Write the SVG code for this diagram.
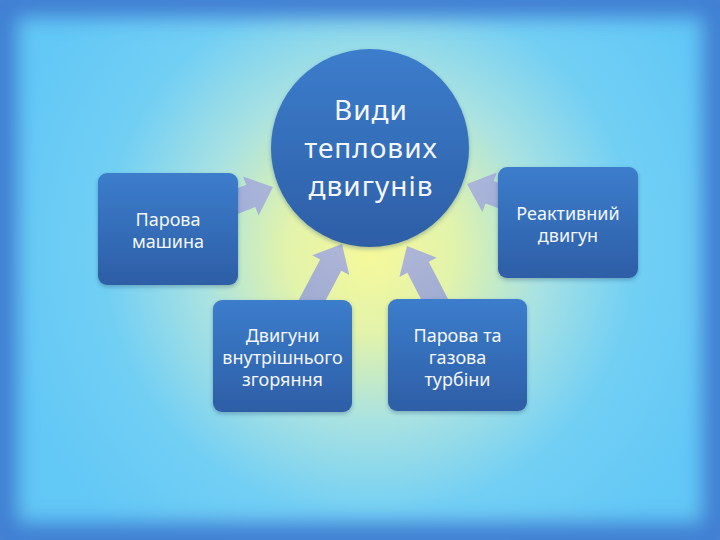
<svg xmlns="http://www.w3.org/2000/svg" width="720" height="540" viewBox="0 0 720 540">
  <defs>
    <radialGradient id="bg" cx="370" cy="250" r="380" gradientUnits="userSpaceOnUse">
      <stop offset="0" stop-color="#f6f99a"/>
      <stop offset="0.22" stop-color="#e2f3ab"/>
      <stop offset="0.45" stop-color="#a9e2e2"/>
      <stop offset="0.7" stop-color="#72cff4"/>
      <stop offset="1" stop-color="#62c8f6"/>
    </radialGradient>
    <linearGradient id="boxFill" x1="0" y1="0" x2="0" y2="1">
      <stop offset="0" stop-color="#3c7dcc"/>
      <stop offset="1" stop-color="#2d5ea6"/>
    </linearGradient>
    <linearGradient id="arrowFill" x1="0" y1="0" x2="1" y2="0">
      <stop offset="0" stop-color="#9aa5d5"/>
      <stop offset="1" stop-color="#a9b1dc"/>
    </linearGradient>
    <filter id="frameBlur" x="-10%" y="-10%" width="120%" height="120%">
      <feGaussianBlur stdDeviation="10"/>
    </filter>
    <filter id="shadow" x="-20%" y="-20%" width="140%" height="140%">
      <feDropShadow dx="0" dy="2" stdDeviation="2" flood-color="#1d3f70" flood-opacity="0.35"/>
    </filter>
    <polygon id="arrow" points="0,-12 46,-12 46,-21 70,0 46,21 46,12 0,12"/>
  </defs>
  <style>
    .box { fill: url(#boxFill); filter: url(#shadow); }
    .lbl { font-family: "Noto Sans", "Open Sans", sans-serif; font-size: 18px; fill: #f4f7ff; text-anchor: middle; }
    .title { font-family: "Noto Sans", "Open Sans", sans-serif; font-size: 28px; fill: #f4f7ff; text-anchor: middle; letter-spacing: 1px; }
    .arr { fill: url(#arrowFill); opacity: 0.92; }
  </style>

  <!-- background -->
  <rect x="0" y="0" width="720" height="540" fill="url(#bg)"/>
  <rect x="0" y="0" width="720" height="540" fill="none" stroke="#3f7ed2" stroke-width="34" filter="url(#frameBlur)"/>

  <!-- connectors -->
  <g id="connectors">
    <use href="#arrow" class="arr" transform="translate(273,187) rotate(-22) translate(-70,0)"/>
    <use href="#arrow" class="arr" transform="translate(467,184) rotate(200) translate(-70,0)"/>
    <use href="#arrow" class="arr" transform="translate(342,244) rotate(-62) translate(-70,0)"/>
    <use href="#arrow" class="arr" transform="translate(407,246) rotate(-117.4) translate(-70,0)"/>
  </g>

  <g id="center">
    <circle cx="370" cy="148" r="99" class="box"/>
    <text class="title" x="371" y="120">Види</text>
    <text class="title" x="371" y="158">теплових</text>
    <text class="title" x="371" y="196">двигунів</text>
  </g>

  <g id="parova-mashyna">
    <rect x="98" y="173" width="140" height="112" rx="9" class="box"/>
    <text class="lbl" x="168" y="226">Парова</text>
    <text class="lbl" x="168" y="248">машина</text>
  </g>

  <g id="reaktyvnyi">
    <rect x="498" y="167" width="140" height="111" rx="9" class="box"/>
    <text class="lbl" x="568" y="220">Реактивний</text>
    <text class="lbl" x="568" y="242">двигун</text>
  </g>

  <g id="dvzh">
    <rect x="213" y="300" width="139" height="112" rx="9" class="box"/>
    <text class="lbl" x="282.5" y="342">Двигуни</text>
    <text class="lbl" x="282.5" y="364">внутрішнього</text>
    <text class="lbl" x="282.5" y="386">згоряння</text>
  </g>

  <g id="turbina">
    <rect x="388" y="299" width="139" height="112" rx="9" class="box"/>
    <text class="lbl" x="457.5" y="342">Парова та</text>
    <text class="lbl" x="457.5" y="364">газова</text>
    <text class="lbl" x="457.5" y="386">турбіни</text>
  </g>
</svg>
